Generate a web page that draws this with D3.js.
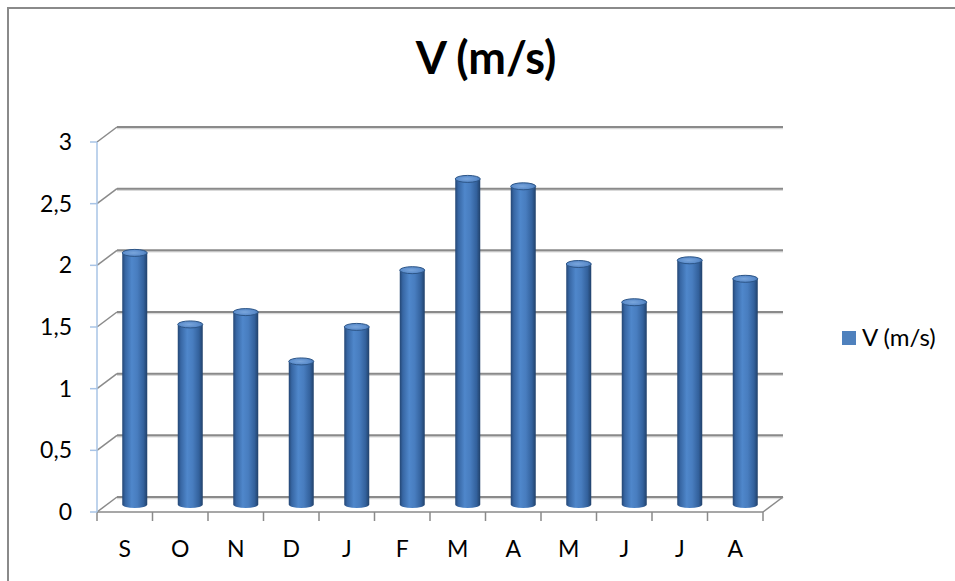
<!DOCTYPE html>
<html>
<head>
<meta charset="utf-8">
<script src="https://cdn.jsdelivr.net/npm/d3@7/dist/d3.min.js"></script>
<style>
  html, body { margin: 0; padding: 0; background: #fff; }
  svg { display: block; }
  text { font-family: Lato, "Open Sans", sans-serif; fill: #000; }
</style>
</head>
<body>
<svg id="chart" width="955" height="581"></svg>
<script>
// Monthly mean wind speed, September to August
const categories = ["S", "O", "N", "D", "J", "F", "M", "A", "M", "J", "J", "A"];
const speeds = [2.04, 1.46, 1.56, 1.16, 1.44, 1.90, 2.64, 2.58, 1.95, 1.64, 1.98, 1.83];
const yTicks = [0, 0.5, 1, 1.5, 2, 2.5, 3];
const yTickLabels = ["0", "0,5", "1", "1,5", "2", "2,5", "3"];
const seriesName = "V (m/s)";

const svg = d3.select("#chart");
const W = 955, H = 581;

// Chart frame
svg.append("rect")
  .attr("x", 8).attr("y", 8).attr("width", W).attr("height", H)
  .attr("fill", "#fff").attr("stroke", "#8a8a8a").attr("stroke-width", 2);

// Oblique 3D projection: front plane plus a depth offset
const depth = { dx: 20, dy: -15 };
const x = d3.scaleBand().domain(d3.range(categories.length)).range([97, 763]).paddingInner(0).paddingOuter(0);
const y = d3.scaleLinear().domain([0, 3]).range([512, 142]);

const gridColor = "#8a8a8a";

// Back wall gridlines and side-wall diagonals
const g = svg.append("g");
yTicks.forEach(t => {
  const yf = y(t);
  g.append("line")
    .attr("x1", x.range()[0] + depth.dx).attr("x2", x.range()[1] + depth.dx)
    .attr("y1", yf + depth.dy + 1.5).attr("y2", yf + depth.dy + 1.5)
    .attr("stroke", "#d9d9d9").attr("stroke-width", 1.5);
  g.append("line")
    .attr("x1", x.range()[0] + depth.dx).attr("x2", x.range()[1] + depth.dx)
    .attr("y1", yf + depth.dy).attr("y2", yf + depth.dy)
    .attr("stroke", gridColor).attr("stroke-width", 2);
  g.append("line")
    .attr("x1", x.range()[0]).attr("y1", yf)
    .attr("x2", x.range()[0] + depth.dx).attr("y2", yf + depth.dy)
    .attr("stroke", gridColor).attr("stroke-width", 1.5);
});

// Floor: front edge and right-side diagonal
g.append("line")
  .attr("x1", x.range()[0]).attr("x2", x.range()[1])
  .attr("y1", y(0)).attr("y2", y(0))
  .attr("stroke", gridColor).attr("stroke-width", 1.5);
g.append("line")
  .attr("x1", x.range()[1]).attr("y1", y(0))
  .attr("x2", x.range()[1] + depth.dx).attr("y2", y(0) + depth.dy)
  .attr("stroke", gridColor).attr("stroke-width", 1.5);

// Category tick marks at band boundaries
d3.range(categories.length + 1).forEach(i => {
  const xx = x.range()[0] + i * x.bandwidth();
  g.append("line")
    .attr("x1", xx).attr("x2", xx).attr("y1", y(0)).attr("y2", y(0) + 9)
    .attr("stroke", gridColor).attr("stroke-width", 1.5);
});

// Value axis line and ticks
g.append("line")
  .attr("x1", x.range()[0]).attr("x2", x.range()[0])
  .attr("y1", y(3)).attr("y2", y(0))
  .attr("stroke", "#a8c4e6").attr("stroke-width", 1.5);
yTicks.forEach((t, i) => {
  g.append("line")
    .attr("x1", x.range()[0] - 7).attr("x2", x.range()[0])
    .attr("y1", y(t)).attr("y2", y(t))
    .attr("stroke", "#a8c4e6").attr("stroke-width", 1.5);
  g.append("text")
    .attr("x", 72).attr("y", y(t) + 8)
    .attr("text-anchor", "end")
    .attr("font-size", 23)
    .text(yTickLabels[i]);
});

// Category labels
categories.forEach((c, i) => {
  g.append("text")
    .attr("x", x(i) + x.bandwidth() / 2).attr("y", 557)
    .attr("text-anchor", "middle")
    .attr("font-size", 23)
    .text(c);
});

// Cylinder shading
const defs = svg.append("defs");
const grad = defs.append("linearGradient").attr("id", "cyl").attr("x1", "0").attr("x2", "1").attr("y1", "0").attr("y2", "0");
[["0%", "#244674"], ["12%", "#3766a3"], ["38%", "#4f87cb"], ["60%", "#487dbf"], ["85%", "#33619c"], ["100%", "#21416a"]]
  .forEach(([o, c]) => grad.append("stop").attr("offset", o).attr("stop-color", c));
const topGrad = defs.append("radialGradient").attr("id", "cyltop").attr("cx", "45%").attr("cy", "50%").attr("r", "60%");
[["0%", "#7aa6dc"], ["70%", "#5b8ccb"], ["100%", "#3f6ea9"]]
  .forEach(([o, c]) => topGrad.append("stop").attr("offset", o).attr("stop-color", c));

// Bars sit at mid depth
const mid = { dx: depth.dx / 2, dy: depth.dy / 2 };
const barW = 25, ry = 3.5;
const bars = svg.append("g");
speeds.forEach((v, i) => {
  const cx = x(i) + x.bandwidth() / 2 + mid.dx;
  const yTop = y(v) + mid.dy;
  const yBot = y(0) + mid.dy;
  const rx = barW / 2;
  // body with rounded bottom
  const body = `M${cx - rx},${yTop} L${cx - rx},${yBot} A${rx},${ry} 0 0 0 ${cx + rx},${yBot} L${cx + rx},${yTop} Z`;
  bars.append("path").attr("d", body).attr("fill", "url(#cyl)");
  bars.append("ellipse")
    .attr("cx", cx).attr("cy", yTop).attr("rx", rx).attr("ry", ry)
    .attr("fill", "url(#cyltop)").attr("stroke", "#2d5688").attr("stroke-width", 1);
});

// Title
svg.append("text")
  .attr("x", 486).attr("y", 74)
  .attr("text-anchor", "middle")
  .attr("font-size", 45).attr("font-weight", "bold")
  .text(seriesName);

// Legend
svg.append("rect")
  .attr("x", 842).attr("y", 331).attr("width", 14).attr("height", 14)
  .attr("fill", "#4f81bd");
svg.append("text")
  .attr("x", 862).attr("y", 346)
  .attr("font-size", 24)
  .text(seriesName);
</script>
</body>
</html>
